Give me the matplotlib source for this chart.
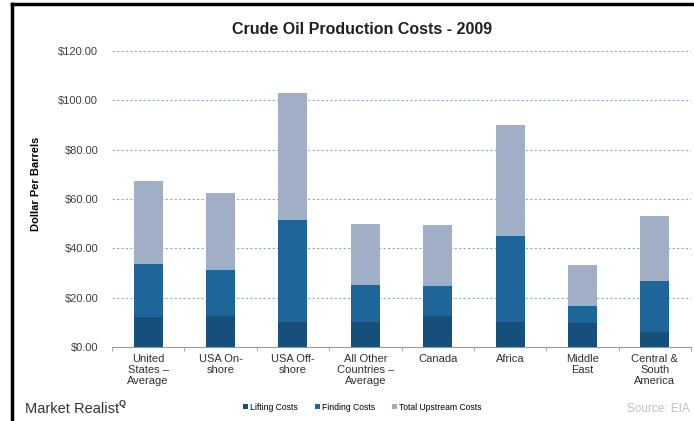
import numpy as np
import matplotlib.pyplot as plt
from matplotlib.lines import Line2D

plt.rcParams['font.family'] = ['Liberation Sans', 'DejaVu Sans']

regions = ['United\nStates –\nAverage', 'USA On-\nshore', 'USA Off-\nshore',
           'All Other\nCountries –\nAverage', 'Canada', 'Africa', 'Middle\nEast',
           'Central &\nSouth\nAmerica']
lifting = [12.0, 12.7, 10.0, 10.0, 12.6, 10.3, 9.6, 6.2]
finding = [21.5, 18.5, 41.5, 15.0, 12.1, 34.8, 7.0, 20.4]
total_upstream = [33.7, 31.2, 51.5, 25.0, 24.7, 45.1, 16.6, 26.6]
yticks = [0, 20, 40, 60, 80, 100, 120]

c_lift = '#174f7c'
c_find = '#1c6699'
c_total = '#a0afc6'

fig = plt.figure(figsize=(6.94, 4.21), dpi=100)
ax = fig.add_axes([112/694, 1-347/421, 579/694, 296/421])

x = np.arange(len(regions))
w = 0.40
lifting = np.array(lifting)
finding = np.array(finding)
total_upstream = np.array(total_upstream)
b1 = ax.bar(x, lifting, w, color=c_lift, zorder=3)
b2 = ax.bar(x, finding, w, bottom=lifting, color=c_find, zorder=3)
b3 = ax.bar(x, total_upstream, w, bottom=lifting+finding, color=c_total, zorder=3)

ax.set_xlim(-0.5, len(regions)-0.5)
ax.set_ylim(0, 120)
ax.set_yticks(yticks)
ax.set_yticklabels(['$%.2f' % v for v in yticks], fontsize=8, color='#404040')
for v in yticks[1:]:
    ax.axhline(v, color='#8fa9c6', lw=0.8, ls=(0, (2, 2)), zorder=1)

ax.set_xticks(x)
ax.set_xticklabels(regions, fontsize=8, color='#303030', linespacing=1.15)
ax.set_xticks(np.arange(-0.5, len(regions)), minor=True)
ax.tick_params(axis='x', which='major', length=0, pad=5)
ax.tick_params(axis='x', which='minor', length=3, color='#999999')
ax.tick_params(axis='y', length=0, pad=10)
for s in ['top', 'right', 'left']:
    ax.spines[s].set_visible(False)
ax.spines['bottom'].set_color('#999999')

ax.set_ylabel('Dollar Per Barrels', fontsize=8, fontweight='bold')
ax.yaxis.set_label_coords(-0.122, 0.55)

fig.text(362/694, 1-30/421, 'Crude Oil Production Costs - 2009', ha='center', va='center',
         fontsize=11.5, fontweight='bold', color='#202020')

# border lines
fig.add_artist(Line2D([12/694, 12/694], [0, 1-4/421], color='black', lw=2.5))
fig.add_artist(Line2D([12/694, 1], [1-4/421, 1-4/421], color='black', lw=2.5))

fig.text(25/694, 1-409/421, 'Market Realist', fontsize=10.5, color='#333333', va='center')
fig.text(119/694, 1-403/421, 'Q', fontsize=6.5, fontweight='bold', color='#333333', va='center')
fig.text(690/694, 1-409/421, 'Source: EIA', fontsize=8.5, color='#c0c0c0', ha='right', va='center')

fig.legend([b1, b2, b3], ['Lifting Costs', 'Finding Costs', 'Total Upstream Costs'],
           loc='center', bbox_to_anchor=(362/694, 1-407/421), ncol=3, fontsize=6.2,
           frameon=False, handlelength=0.6, handleheight=0.6, handletextpad=0.2,
           columnspacing=2.0)

fig.savefig('out.png', dpi=100)
